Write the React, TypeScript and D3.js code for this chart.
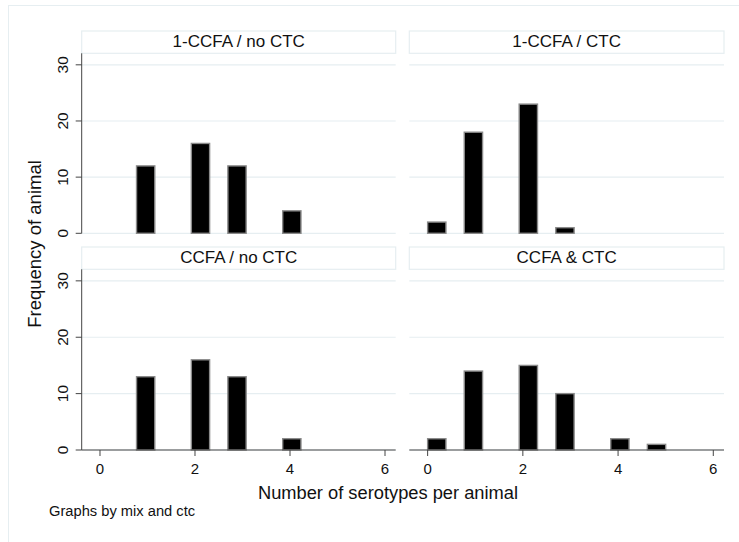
import React, { useRef, useEffect } from 'react';
import * as d3 from 'd3';

// serotype counts per animal, one array per panel (index = number of serotypes)
const serotypes = [0, 1, 2, 3, 4, 5];
const panelTitles = ['1-CCFA / no CTC', '1-CCFA / CTC', 'CCFA / no CTC', 'CCFA & CTC'];
const ccfa1NoCtc = [0, 12, 16, 12, 4, 0];
const ccfa1Ctc = [2, 18, 23, 1, 0, 0];
const ccfaNoCtc = [0, 13, 16, 13, 2, 0];
const ccfaCtc = [2, 14, 15, 10, 2, 1];
const yTicks = [0, 10, 20, 30];
const xTicks = [0, 2, 4, 6];

const panelData = [ccfa1NoCtc, ccfa1Ctc, ccfaNoCtc, ccfaCtc];

const WIDTH = 739;
const HEIGHT = 542;
const FONT = "'Liberation Sans', Arial, sans-serif";
const GRID = '#e6eef1';
const AXIS = '#444';

// Stata-style histogram bins: 13 bins over the range 0..5
const nBins = 13;
const binW = 5 / nBins;

export default function App() {
  const svgRef = useRef<SVGSVGElement>(null);

  useEffect(() => {
    if (!svgRef.current) return;
    const svg = d3.select(svgRef.current);
    svg.selectAll('*').remove();

    // outer graph region frame
    svg.append('rect')
      .attr('x', 8.5).attr('y', 5.5)
      .attr('width', WIDTH).attr('height', HEIGHT)
      .attr('fill', 'white')
      .attr('stroke', GRID);

    const cols = [{ x0: 81.7, x1: 395.7 }, { x0: 409.3, x1: 724 }];
    const rows = [{ t: 31, p: 53.3, b: 233.3 }, { t: 247, p: 269.3, b: 450 }];

    panelData.forEach((counts, i) => {
      const col = cols[i % 2];
      const row = rows[Math.floor(i / 2)];
      const isLeft = i % 2 === 0;
      const isBottom = i >= 2;

      const x = d3.scaleLinear().domain([-0.385, 6.225]).range([col.x0, col.x1]);
      const y = d3.scaleLinear().domain([0, 32.05]).range([row.b, row.p]);

      const g = svg.append('g');

      // title box
      g.append('rect')
        .attr('x', col.x0).attr('y', row.t)
        .attr('width', col.x1 - col.x0).attr('height', row.p - row.t)
        .attr('fill', 'white').attr('stroke', GRID).attr('stroke-width', 1.2);
      g.append('text')
        .attr('x', (col.x0 + col.x1) / 2).attr('y', row.t + 15.8)
        .attr('text-anchor', 'middle')
        .attr('font-family', FONT).attr('font-size', '17px').attr('fill', '#111')
        .text(panelTitles[i]);

      // grid lines
      yTicks.forEach((t) => {
        g.append('line')
          .attr('x1', col.x0).attr('x2', col.x1)
          .attr('y1', y(t)).attr('y2', y(t))
          .attr('stroke', GRID).attr('stroke-width', 1.2);
      });

      // bars
      serotypes.forEach((v, j) => {
        const c = counts[j];
        if (!c) return;
        const idx = Math.min(Math.floor(v / binW + 1e-9), nBins - 1);
        const lo = idx * binW;
        g.append('rect')
          .attr('x', x(lo)).attr('y', y(c))
          .attr('width', x(lo + binW) - x(lo)).attr('height', y(0) - y(c))
          .attr('fill', 'black')
          .attr('stroke', '#8a8a8a').attr('stroke-width', 1.4);
      });

      if (isLeft) {
        g.append('line')
          .attr('x1', col.x0).attr('x2', col.x0)
          .attr('y1', row.p).attr('y2', row.b)
          .attr('stroke', AXIS).attr('stroke-width', 1);
        yTicks.forEach((t) => {
          g.append('line')
            .attr('x1', col.x0 - 6).attr('x2', col.x0)
            .attr('y1', y(t)).attr('y2', y(t))
            .attr('stroke', AXIS).attr('stroke-width', 1);
          g.append('text')
            .attr('transform', `translate(${col.x0 - 13.3},${y(t)}) rotate(-90)`)
            .attr('text-anchor', 'middle')
            .attr('font-family', FONT).attr('font-size', '15.5px').attr('fill', '#111')
            .text(String(t));
        });
      }

      if (isBottom) {
        g.append('line')
          .attr('x1', col.x0).attr('x2', col.x1)
          .attr('y1', row.b).attr('y2', row.b)
          .attr('stroke', AXIS).attr('stroke-width', 1);
        xTicks.forEach((t) => {
          g.append('line')
            .attr('x1', x(t)).attr('x2', x(t))
            .attr('y1', row.b).attr('y2', row.b + 6)
            .attr('stroke', AXIS).attr('stroke-width', 1);
          g.append('text')
            .attr('x', x(t)).attr('y', row.b + 23.8)
            .attr('text-anchor', 'middle')
            .attr('font-family', FONT).attr('font-size', '15px').attr('fill', '#111')
            .text(String(t));
        });
      }
    });

    // axis titles
    svg.append('text')
      .attr('transform', `translate(40.7,244) rotate(-90)`)
      .attr('text-anchor', 'middle')
      .attr('font-family', FONT).attr('font-size', '18.5px').attr('fill', '#111')
      .text('Frequency of animal');

    svg.append('text')
      .attr('x', 388).attr('y', 498.5)
      .attr('text-anchor', 'middle')
      .attr('font-family', FONT).attr('font-size', '18.3px').attr('fill', '#111')
      .text('Number of serotypes per animal');

    svg.append('text')
      .attr('x', 49).attr('y', 516)
      .attr('font-family', FONT).attr('font-size', '14.7px').attr('fill', '#111')
      .text('Graphs by mix and ctc');
  }, []);

  return (
    <svg
      ref={svgRef}
      width={WIDTH}
      height={HEIGHT}
      style={{ position: 'absolute', left: 0, top: 0, background: 'white' }}
    />
  );
}
